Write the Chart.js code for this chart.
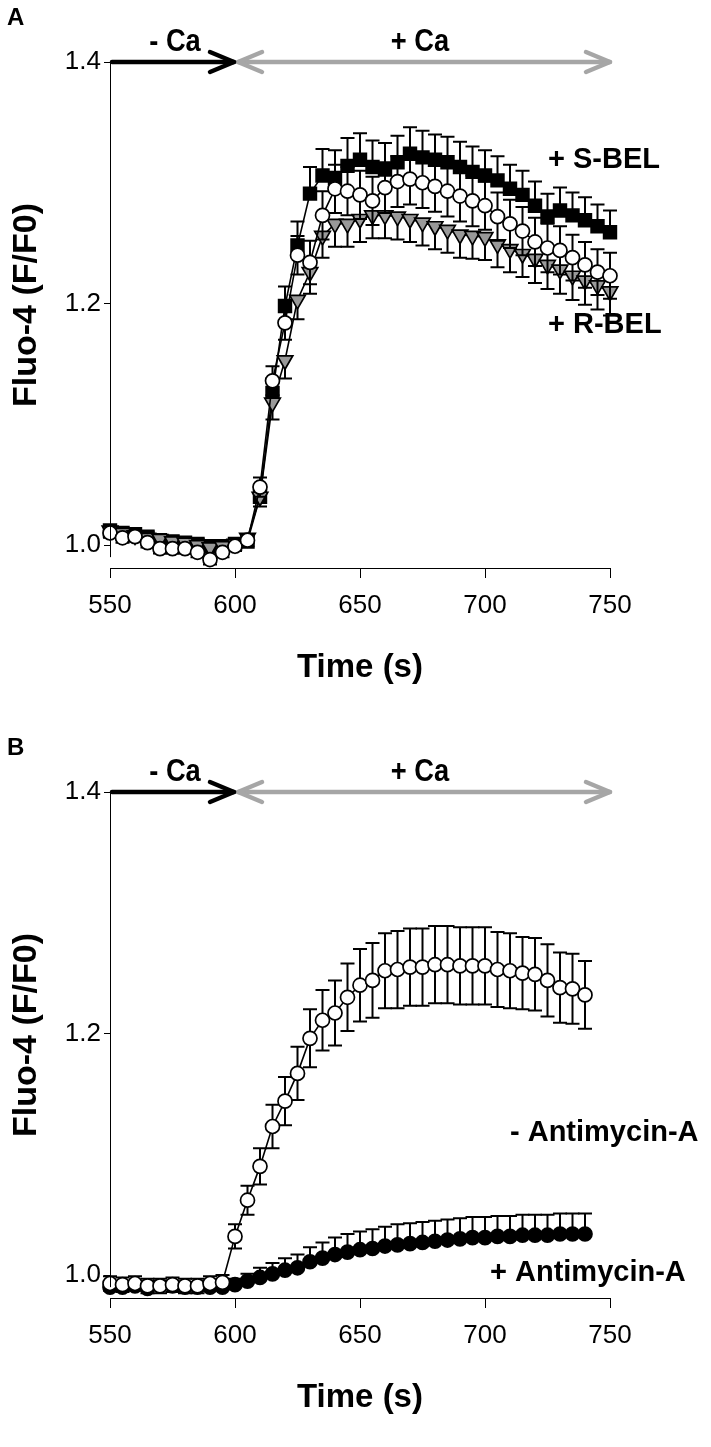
<!DOCTYPE html>
<html><head><meta charset="utf-8">
<script src="https://cdn.jsdelivr.net/npm/chart.js@4.4.1/dist/chart.umd.min.js"></script>
<style>
html,body{margin:0;padding:0;background:#fff;}
#wrap{position:relative;width:711px;height:1447px;overflow:hidden;}
canvas{position:absolute;left:0;}
</style></head><body>
<div id="wrap">
<canvas id="cA" width="711" height="730" style="top:0;width:711px;height:730px"></canvas>
<canvas id="cB" width="711" height="730" style="top:730px;width:711px;height:730px"></canvas>
</div>
<script>
// ---------- DATA ----------
const xTickLabels = [550, 600, 650, 700, 750];
const yTickLabels = [1.0, 1.2, 1.4];

// Panel A (time in s)
const timeA = [550,555,560,565,570,575,580,585,590,595,600,605,610,615,620,625,630,635,640,645,650,655,660,665,670,675,680,685,690,695,700,705,710,715,720,725,730,735,740,745,750];
const sBel = [1.012,1.010,1.009,1.007,1.004,1.003,1.002,1.001,0.999,0.999,1.001,1.003,1.040,1.126,1.198,1.248,1.291,1.306,1.304,1.314,1.319,1.313,1.311,1.317,1.324,1.321,1.319,1.317,1.313,1.309,1.306,1.302,1.295,1.290,1.281,1.272,1.277,1.273,1.269,1.264,1.259];
const sBelErr = [0.004,0.004,0.004,0.004,0.004,0.004,0.004,0.004,0.004,0.004,0.004,0.005,0.008,0.012,0.016,0.020,0.022,0.022,0.023,0.023,0.022,0.022,0.022,0.022,0.022,0.022,0.021,0.021,0.021,0.021,0.021,0.020,0.020,0.020,0.020,0.019,0.019,0.019,0.019,0.018,0.018];
const ctrlA = [1.010,1.006,1.007,1.002,0.997,0.997,0.997,0.994,0.988,0.994,0.999,1.004,1.048,1.136,1.184,1.240,1.234,1.273,1.295,1.293,1.290,1.285,1.296,1.301,1.303,1.300,1.297,1.293,1.289,1.285,1.281,1.272,1.266,1.260,1.251,1.246,1.244,1.238,1.232,1.226,1.223];
const ctrlAErr = [0.004,0.004,0.004,0.004,0.004,0.004,0.004,0.004,0.004,0.004,0.004,0.005,0.008,0.012,0.014,0.016,0.018,0.020,0.020,0.020,0.020,0.020,0.021,0.021,0.021,0.021,0.021,0.021,0.021,0.021,0.020,0.020,0.020,0.020,0.020,0.020,0.020,0.019,0.019,0.019,0.019];
const rBel = [1.012,1.010,1.008,1.006,1.005,1.003,1.002,1.000,0.998,0.999,1.001,1.006,1.040,1.118,1.153,1.203,1.226,1.256,1.266,1.266,1.270,1.273,1.273,1.272,1.270,1.267,1.264,1.261,1.257,1.256,1.255,1.249,1.245,1.241,1.237,1.232,1.228,1.223,1.219,1.215,1.210];
const rBelErr = [0.003,0.003,0.003,0.003,0.003,0.003,0.003,0.003,0.003,0.003,0.003,0.005,0.008,0.014,0.015,0.016,0.018,0.018,0.019,0.019,0.019,0.019,0.019,0.019,0.019,0.019,0.019,0.019,0.019,0.019,0.019,0.019,0.019,0.019,0.020,0.020,0.020,0.020,0.020,0.020,0.020];

// Panel B
const timeB = [550,555,560,565,570,575,580,585,590,595,600,605,610,615,620,625,630,635,640,645,650,655,660,665,670,675,680,685,690,695,700,705,710,715,720,725,730,735,740];
const minusAA = [0.993,0.992,0.993,0.991,0.991,0.992,0.991,0.991,0.993,0.994,1.032,1.062,1.090,1.123,1.144,1.167,1.196,1.211,1.217,1.230,1.240,1.244,1.252,1.253,1.255,1.255,1.257,1.257,1.256,1.256,1.256,1.253,1.252,1.250,1.249,1.244,1.238,1.237,1.232];
const minusAAErr = [0.006,0.006,0.006,0.006,0.006,0.006,0.006,0.006,0.006,0.006,0.010,0.012,0.015,0.018,0.020,0.022,0.024,0.025,0.027,0.028,0.030,0.031,0.031,0.032,0.032,0.032,0.032,0.032,0.032,0.032,0.032,0.031,0.031,0.030,0.030,0.030,0.029,0.029,0.028];
const plusAA = [0.990,0.990,0.991,0.989,0.991,0.991,0.990,0.990,0.990,0.990,0.992,0.995,0.998,1.001,1.004,1.006,1.011,1.014,1.017,1.019,1.021,1.022,1.024,1.025,1.026,1.027,1.028,1.029,1.030,1.031,1.031,1.032,1.032,1.033,1.033,1.033,1.034,1.034,1.034];
const plusAAErr = [0.004,0.004,0.004,0.004,0.004,0.004,0.004,0.004,0.004,0.004,0.005,0.006,0.008,0.009,0.010,0.011,0.012,0.013,0.014,0.015,0.015,0.016,0.016,0.017,0.017,0.017,0.017,0.017,0.017,0.017,0.017,0.017,0.017,0.017,0.017,0.017,0.017,0.017,0.017];

// ---------- STYLE ----------
const SANS = "'Liberation Sans', Arial, sans-serif";

const pts = (xs, ys) => xs.map((x, i) => ({x: x, y: ys[i]}));

const errorBars = {
  id: 'errorBars',
  beforeDatasetDraw(chart, args) {
    const ds = chart.data.datasets[args.index];
    if (!ds.errPlus && !ds.errMinus) return;
    const ctx = chart.ctx, xs = chart.scales.x, ys = chart.scales.y;
    ctx.save();
    ctx.strokeStyle = '#000';
    ctx.lineWidth = 2;
    ds.data.forEach((p, i) => {
      const px = xs.getPixelForValue(p.x);
      const py = ys.getPixelForValue(p.y);
      const cw = 7;
      [[ds.errPlus, 1], [ds.errMinus, -1]].forEach(pair => {
        const arr = pair[0], sgn = pair[1];
        if (!arr) return;
        const pe = ys.getPixelForValue(p.y + sgn * arr[i]);
        ctx.beginPath();
        ctx.moveTo(px, py); ctx.lineTo(px, pe);
        ctx.moveTo(px - cw, pe); ctx.lineTo(px + cw, pe);
        ctx.stroke();
      });
    });
    ctx.restore();
  }
};

function chevron(ctx, tipX, y, dir) {
  ctx.beginPath();
  ctx.moveTo(tipX - dir * 24, y - 10);
  ctx.lineTo(tipX, y);
  ctx.lineTo(tipX - dir * 24, y + 10);
  ctx.stroke();
}

function narrowText(ctx, txt, x, y, sx) {
  ctx.save();
  ctx.translate(x, y);
  ctx.scale(sx, 1);
  ctx.fillText(txt, 0, 0);
  ctx.restore();
}

function makeAnnot(letter, seriesLabels) {
  return {
    id: 'annot',
    afterDraw(chart) {
      const ctx = chart.ctx, xs = chart.scales.x, ys = chart.scales.y;
      const ca = chart.chartArea;
      ctx.save();
      // y axis line
      ctx.strokeStyle = '#000'; ctx.lineWidth = 1;
      ctx.beginPath();
      ctx.moveTo(ca.left + 0.5, ys.getPixelForValue(1.4));
      ctx.lineTo(ca.left + 0.5, ys.getPixelForValue(0.99));
      ctx.stroke();
      // arrows
      const ay = ys.getPixelForValue(1.4);
      const x0 = xs.getPixelForValue(550), x1 = xs.getPixelForValue(600), x2 = xs.getPixelForValue(750);
      ctx.lineCap = 'round'; ctx.lineJoin = 'round';
      ctx.strokeStyle = '#a6a6a6'; ctx.lineWidth = 4.5;
      ctx.beginPath(); ctx.moveTo(x1 + 3, ay); ctx.lineTo(x2, ay); ctx.stroke();
      chevron(ctx, x1 + 3, ay, -1);
      chevron(ctx, x2, ay, 1);
      ctx.strokeStyle = '#000'; ctx.lineWidth = 4.5;
      ctx.beginPath(); ctx.moveTo(x0 + 2, ay); ctx.lineTo(x1 - 1, ay); ctx.stroke();
      chevron(ctx, x1 - 1, ay, 1);
      // texts
      ctx.fillStyle = '#000';
      ctx.textBaseline = 'middle';
      ctx.textAlign = 'left';
      ctx.font = "bold 24px " + SANS;
      ctx.fillText(letter, 7, 18);
      ctx.textAlign = 'center';
      ctx.font = "bold 31px " + SANS;
      narrowText(ctx, '- Ca', xs.getPixelForValue(576), 42, 0.88);
      narrowText(ctx, '+ Ca', xs.getPixelForValue(674), 42, 0.88);
      ctx.font = "bold 33px " + SANS;
      ctx.fillText('Time (s)', (ca.left + ca.right) / 2, 668);
      ctx.save();
      ctx.translate(27, 305);
      ctx.rotate(-Math.PI / 2);
      ctx.font = "bold 34px " + SANS;
      ctx.fillText('Fluo-4 (F/F0)', 0, 0);
      ctx.restore();
      ctx.textAlign = 'left';
      ctx.font = "bold 29px " + SANS;
      seriesLabels.forEach(l => ctx.fillText(l.text, l.x, l.y));
      ctx.restore();
    }
  };
}

function makeChart(id, datasets, letter, seriesLabels) {
  return new Chart(document.getElementById(id), {
    type: 'line',
    data: { datasets: datasets },
    plugins: [errorBars, makeAnnot(letter, seriesLabels)],
    options: {
      responsive: false,
      animation: false,
      events: [],
      layout: { padding: { top: 62, right: 101, left: 0, bottom: 0 } },
      plugins: { legend: { display: false }, tooltip: { enabled: false } },
      scales: {
        x: {
          type: 'linear', min: 550, max: 750,
          afterBuildTicks: s => { s.ticks = xTickLabels.map(v => ({ value: v })); },
          afterFit: s => { s.height = 162; },
          ticks: { color: '#000', padding: 12, maxRotation: 0, font: { family: SANS, size: 26 } },
          grid: { display: true, drawOnChartArea: false, drawTicks: true, tickLength: 10, color: '#000', lineWidth: 1 },
          border: { display: true, color: '#000', width: 1 }
        },
        y: {
          type: 'linear', min: 0.981, max: 1.4,
          afterBuildTicks: s => { s.ticks = yTickLabels.map(v => ({ value: v })); },
          afterFit: s => { s.width = 110; },
          ticks: { color: '#000', padding: 3, callback: v => Number(v).toFixed(1), font: { family: SANS, size: 26 } },
          grid: { display: true, drawOnChartArea: false, drawTicks: true, tickLength: 6, color: '#000', lineWidth: 1 },
          border: { display: false }
        }
      }
    }
  });
}

const lineBase = { showLine: true, borderColor: '#000', borderWidth: 1.6, clip: false, pointBorderColor: '#000', pointBorderWidth: 1.7, fill: false, tension: 0 };

makeChart('cA', [
  Object.assign({}, lineBase, { label: 'control', data: pts(timeA, ctrlA), errPlus: ctrlAErr, errMinus: ctrlAErr, pointStyle: 'circle', pointRadius: 7, pointBackgroundColor: '#fff', order: 0 }),
  Object.assign({}, lineBase, { label: '+ R-BEL', data: pts(timeA, rBel), errMinus: rBelErr, pointStyle: 'triangle', pointRadius: 9, pointRotation: 180, pointBackgroundColor: '#999', order: 1 }),
  Object.assign({}, lineBase, { label: '+ S-BEL', data: pts(timeA, sBel), errPlus: sBelErr, pointStyle: 'rect', pointRadius: 9, pointBackgroundColor: '#000', order: 2 })
], 'A', [ { text: '+ S-BEL', x: 548, y: 160 }, { text: '+ R-BEL', x: 548, y: 325 } ]);

makeChart('cB', [
  Object.assign({}, lineBase, { label: '- Antimycin-A', data: pts(timeB, minusAA), errPlus: minusAAErr, errMinus: minusAAErr, pointStyle: 'circle', pointRadius: 7, pointBackgroundColor: '#fff', order: 0 }),
  Object.assign({}, lineBase, { label: '+ Antimycin-A', data: pts(timeB, plusAA), errPlus: plusAAErr, pointStyle: 'circle', pointRadius: 7, pointBackgroundColor: '#000', order: 1 })
], 'B', [ { text: '- Antimycin-A', x: 510, y: 403 }, { text: '+ Antimycin-A', x: 490, y: 543 } ]);
</script>
</body></html>
